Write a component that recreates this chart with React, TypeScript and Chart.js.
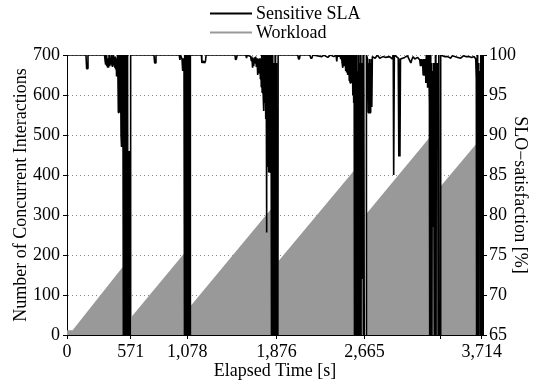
import React, { useEffect, useRef } from 'react';
import { Chart, registerables } from 'chart.js';

Chart.register(...registerables);

const FONT = "'Liberation Serif', 'Times New Roman', Times, serif";

// x-axis ticks (elapsed seconds) and their labels
const xTickValues = [0, 571, 1078, 1876, 2665, 3344, 3714];
const xTickLabels = ['0', '571', '1,078', '1,876', '2,665', '', '3,714'];

// Workload: number of concurrent interactions (null = break between runs)
const workloadTime = [0, 50, 504, 546, 560, 582, 1056, 1083, 1095, 1105, 1873, 1882, 1891, 2663, 2672, 2682, 3320, 3335, 3347, 3723];
const workloadValue = [12, 12, 172, 186, null, 47, 206, 215, null, 72, 330, null, 184, 442, null, 303, 518, null, 372, 497];

// Sensitive SLA: SLO satisfaction [%] as [time, value]; values below 65 leave the plot
const slaRun1: [number, number][] = [
  [0, 100], [170, 100], [176, 98.3], [182, 98.3], [188, 100], [336, 100], [342, 99.2], [346, 98.8], [350, 100],
  [356, 98.6], [360, 99.6], [364, 98.4], [368, 99.4], [372, 98.4], [377, 100], [383, 98.6], [388, 99.6],
  [394, 98.8], [400, 100], [404, 98.6], [408, 99.7], [412, 98.6], [416, 100], [422, 99.3], [428, 98.4],
  [432, 99.8], [436, 98.2], [440, 99.6], [444, 97.3], [448, 99.5], [452, 97.5], [456, 100], [460, 92.8],
  [463, 100], [466, 93], [469, 100], [472, 92.8], [475, 99.5], [478, 92.8], [481, 100], [484, 90], [487, 99],
  [490, 88.5], [493, 100], [496, 89], [499, 99], [502, 88], [505, 50], [508, 100], [511, 50], [514, 99],
  [517, 50], [520, 100], [523, 50], [526, 98], [529, 50], [532, 100], [535, 50], [538, 99], [541, 50],
  [544, 100], [547, 50], [552, 88], [557, 50], [562, 88], [566, 50], [569, 50],
];
const slaRun2: [number, number][] = [
  [571, 100], [779, 100], [785, 99], [791, 99], [797, 100], [1005, 100], [1011, 99.4], [1017, 100],
  [1030, 99.5], [1036, 98], [1040, 99.6], [1044, 98], [1048, 99.6], [1052, 50], [1056, 100], [1060, 50],
  [1064, 100], [1068, 50], [1072, 100], [1076, 50], [1080, 100], [1084, 50], [1088, 100], [1092, 50],
  [1096, 100], [1100, 50], [1103, 50],
];
const slaRun3: [number, number][] = [
  [1105, 100], [1204, 100], [1208, 99], [1213, 99.3], [1218, 99], [1225, 99.2], [1232, 99], [1240, 99.2],
  [1246, 100], [1504, 100], [1510, 99.4], [1517, 99.5], [1524, 100], [1602, 100], [1608, 99.6], [1614, 100],
  [1645, 99.8], [1650, 99.3], [1656, 99.8], [1662, 98.4], [1667, 99.6], [1672, 98.6], [1678, 99.7],
  [1684, 99], [1690, 99.8], [1696, 98.5], [1702, 99.6], [1708, 97.5], [1714, 99.5], [1720, 97.8],
  [1726, 99.6], [1732, 97], [1736, 99.6], [1740, 96], [1744, 100], [1748, 95.3], [1752, 100], [1756, 95.5],
  [1760, 100], [1764, 93], [1768, 100], [1772, 94], [1776, 100], [1780, 92], [1784, 100], [1787, 77.8],
  [1790, 100], [1793, 88], [1796, 100], [1799, 86], [1802, 100], [1805, 85.3], [1808, 100], [1811, 86],
  [1814, 100], [1817, 85.3], [1820, 100], [1823, 88.6], [1826, 100], [1829, 86], [1832, 100], [1835, 50],
  [1839, 100], [1843, 50], [1847, 95], [1852, 99], [1856, 97], [1860, 50], [1864, 100], [1868, 50],
  [1872, 99], [1876, 50], [1888, 50],
];
const slaRun4: [number, number][] = [
  [1891, 100], [2067, 100], [2074, 99.5], [2081, 99.5], [2088, 100], [2175, 100], [2184, 99.6], [2193, 99.6],
  [2202, 100], [2282, 99.8], [2300, 100], [2336, 99.7], [2360, 100], [2390, 99.8], [2410, 100], [2414, 99.2],
  [2418, 99.2], [2422, 100], [2434, 99.8], [2446, 100], [2452, 99.5], [2458, 100], [2464, 99], [2468, 100],
  [2472, 98.4], [2476, 100], [2480, 98.6], [2484, 99.6], [2488, 99.3], [2492, 100], [2496, 98], [2500, 100],
  [2504, 97.8], [2508, 100], [2512, 97.5], [2516, 100], [2520, 98.2], [2524, 100], [2528, 96.8], [2532, 100],
  [2536, 96.5], [2540, 100], [2544, 97], [2548, 100], [2552, 96.5], [2556, 100], [2560, 95], [2564, 100],
  [2568, 94], [2572, 100], [2576, 50], [2580, 100], [2584, 50], [2588, 99], [2592, 50], [2596, 100],
  [2600, 50], [2604, 98], [2608, 50], [2612, 100], [2616, 50], [2620, 99], [2624, 50], [2628, 100],
  [2632, 50], [2636, 98], [2640, 72], [2644, 99], [2648, 72], [2652, 100], [2656, 50], [2660, 100],
  [2664, 50], [2679, 50],
];
const slaRun5: [number, number][] = [
  [2682, 100], [2692, 99.5], [2698, 92.8], [2702, 99], [2706, 92.8], [2710, 99.5], [2714, 92.8], [2718, 99],
  [2722, 93.5], [2726, 99.5], [2730, 93.5], [2735, 99.8], [2760, 99.6], [2780, 100], [2801, 99.6],
  [2830, 99.8], [2855, 99.7], [2890, 99.8], [2913, 99.5], [2922, 100], [2926, 85], [2932, 100], [2967, 99.6],
  [2972, 87.3], [2977, 99], [2982, 87.3], [2987, 99.5], [3025, 99.7], [3050, 99.9], [3070, 99.3], [3080, 99],
  [3088, 99.4], [3100, 99.8], [3115, 99.5], [3140, 99.7], [3159, 99.4], [3166, 98.6], [3172, 99.5],
  [3178, 98.6], [3184, 99.4], [3190, 97.5], [3194, 99.5], [3198, 97.5], [3202, 99.5], [3206, 98.5],
  [3210, 99.5], [3214, 96.5], [3218, 100], [3222, 96.5], [3226, 99.5], [3230, 95.9], [3234, 100],
  [3238, 95.9], [3242, 100], [3246, 94], [3250, 50], [3254, 100], [3258, 50], [3262, 99], [3266, 50],
  [3271, 90], [3276, 98], [3280, 78.6], [3284, 99], [3288, 78.6], [3292, 99], [3296, 50], [3300, 100],
  [3304, 50], [3308, 99], [3312, 96], [3317, 99], [3321, 95], [3326, 50], [3330, 100], [3334, 50], [3344, 50],
];
const slaRun6: [number, number][] = [
  [3347, 100], [3380, 99.8], [3410, 99.8], [3437, 99.6], [3450, 99.9], [3473, 99.8], [3500, 99.7],
  [3526, 99.6], [3550, 99.9], [3571, 99.8], [3600, 99.8], [3625, 99.7], [3645, 99.8], [3661, 99.5],
  [3666, 97], [3670, 50], [3674, 100], [3678, 50], [3682, 99], [3686, 50], [3690, 97], [3700, 98],
  [3704, 50], [3708, 100], [3712, 50], [3716, 100], [3720, 50], [3724, 100],
];

const slaRuns = [slaRun1, slaRun2, slaRun3, slaRun4, slaRun5, slaRun6];

const legendPlugin = {
  id: 'stackedLegend',
  afterDraw(chart: any) {
    const ctx = chart.ctx;
    const left = 210;
    const rows = [13.5, 32.5];
    chart.data.datasets.forEach((ds: any, i: number) => {
      const y = rows[i];
      ctx.save();
      ctx.strokeStyle = ds.borderColor;
      ctx.lineWidth = 2;
      ctx.beginPath();
      ctx.moveTo(left, y);
      ctx.lineTo(left + 42, y);
      ctx.stroke();
      ctx.fillStyle = '#000';
      ctx.font = `18px ${FONT}`;
      ctx.textBaseline = 'middle';
      ctx.textAlign = 'left';
      ctx.fillText(ds.label, left + 46, y + 1);
      ctx.restore();
    });
  },
};

export default function App() {
  const ref = useRef<HTMLCanvasElement>(null);

  useEffect(() => {
    const slaData = slaRuns.flat().map(([t, v]) => ({ x: t, y: v }));
    const workloadData = workloadTime.map((t, i) => ({ x: t, y: workloadValue[i] }));
    const font = { family: FONT, size: 18 };

    const chart = new Chart(ref.current as HTMLCanvasElement, {
      type: 'line',
      data: {
        datasets: [
          {
            label: 'Sensitive SLA',
            data: slaData,
            xAxisID: 'x',
            yAxisID: 'y2',
            borderColor: '#000',
            backgroundColor: '#000',
            borderWidth: 1.6,
            pointRadius: 0,
            fill: false,
            spanGaps: false,
            tension: 0,
            borderJoinStyle: 'bevel',
            order: 0,
          } as any,
          {
            label: 'Workload',
            data: workloadData,
            xAxisID: 'x',
            yAxisID: 'y',
            borderColor: '#999999',
            backgroundColor: '#999999',
            borderWidth: 0,
            pointRadius: 0,
            fill: 'origin',
            spanGaps: false,
            tension: 0,
            order: 1,
          } as any,
        ],
      },
      options: {
        responsive: false,
        animation: false,
        devicePixelRatio: 1,
        layout: { padding: { top: 55, left: 0, right: 0, bottom: 0 } },
        plugins: { legend: { display: false }, tooltip: { enabled: false } },
        scales: {
          x: {
            type: 'linear',
            position: 'bottom',
            min: 0,
            max: 3726,
            afterBuildTicks: (s: any) => {
              s.ticks = xTickValues.map((v) => ({ value: v }));
            },
            ticks: {
              autoSkip: false,
              maxRotation: 0,
              minRotation: 0,
              padding: 2,
              color: '#000',
              font,
              callback: (v: any) => xTickLabels[xTickValues.indexOf(Number(v))],
            },
            grid: { display: true, drawOnChartArea: false, drawTicks: true, tickLength: 4, tickColor: '#000', tickWidth: 1 },
            border: { display: true, color: '#000', width: 1 },
            title: { display: true, text: 'Elapsed Time [s]', color: '#000', font, padding: { top: 0, bottom: 2 } },
            afterFit: (s: any) => {
              s.height = 49;
            },
          },
          y: {
            type: 'linear',
            position: 'left',
            min: 0,
            max: 700,
            ticks: { stepSize: 100, color: '#000', font, padding: 3 },
            grid: { display: true, color: '#8a8a8a', lineWidth: 1, drawTicks: true, tickLength: 4, tickColor: '#000', tickWidth: 1, tickBorderDash: [] } as any,
            border: { display: true, color: '#000', width: 1, dash: [1, 3] },
            title: { display: true, text: 'Number of Concurrent Interactions', color: '#000', font, padding: { top: 10, bottom: 0 } },
            afterFit: (s: any) => {
              s.width = 67;
            },
          },
          y2: {
            type: 'linear',
            position: 'right',
            min: 65,
            max: 100,
            ticks: { stepSize: 5, color: '#000', font, padding: 2 },
            grid: { display: true, drawOnChartArea: false, drawTicks: true, tickLength: 4, tickColor: '#000', tickWidth: 1 },
            border: { display: true, color: '#000', width: 1 },
            title: { display: true, text: 'SLO\u2212satisfaction [%]', color: '#000', font, padding: { top: 6, bottom: 0 } },
            afterFit: (s: any) => {
              s.width = 54;
            },
          },
        },
      } as any,
      plugins: [legendPlugin],
    });

    return () => chart.destroy();
  }, []);

  return (
    <div style={{ position: 'absolute', left: 0, top: 0, width: 537, height: 384, background: '#fff' }}>
      <canvas ref={ref} width={537} height={384} style={{ display: 'block' }} />
    </div>
  );
}
